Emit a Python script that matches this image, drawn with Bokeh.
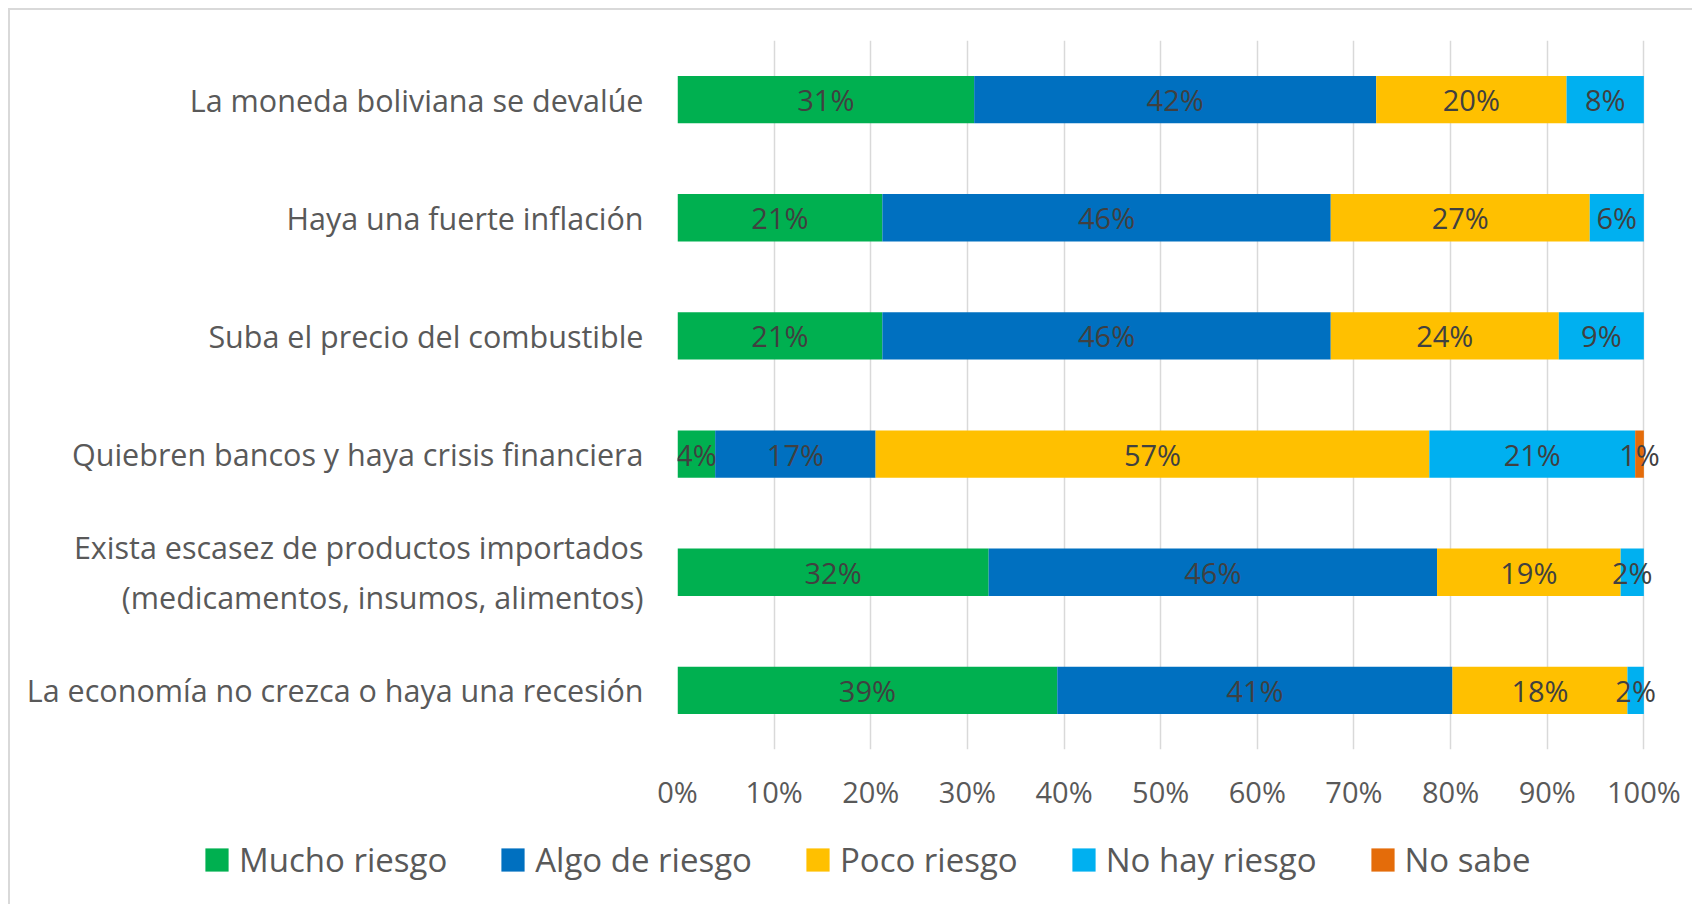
from bokeh.plotting import figure
from bokeh.models import (ColumnDataSource, LabelSet, Range1d, FactorRange, FixedTicker,
                          Legend, LegendItem)
from bokeh.core.properties import value
from bokeh.embed import file_html
from bokeh.resources import INLINE

categories = [
    "La moneda boliviana se devalúe",
    "Haya una fuerte inflación",
    "Suba el precio del combustible",
    "Quiebren bancos y haya crisis financiera",
    "Exista escasez de productos importados\n(medicamentos, insumos, alimentos)",
    "La economía no crezca o haya una recesión",
]
series_names = ["Mucho riesgo", "Algo de riesgo", "Poco riesgo", "No hay riesgo", "No sabe"]
mucho = [30.7, 21.2, 21.2, 3.9, 32.2, 39.3]
algo = [41.6, 46.4, 46.4, 16.6, 46.4, 40.9]
poco = [19.7, 26.8, 23.6, 57.3, 19.0, 18.1]
nohay = [8.0, 5.6, 8.8, 21.3, 2.4, 1.7]
nosabe = [0.0, 0.0, 0.0, 0.9, 0.0, 0.0]
colors = ["#00B050", "#0070C0", "#FFC000", "#00B0F0", "#E46C0A"]
tick_values = [0, 10, 20, 30, 40, 50, 60, 70, 80, 90, 100]
tick_labels = ["0%", "10%", "20%", "30%", "40%", "50%", "60%", "70%", "80%", "90%", "100%"]

FONT = "Open Sans"
LABEL_COLOR = "#595959"

p = figure(
    width=1684, height=820,
    y_range=FactorRange(factors=list(reversed(categories))),
    x_range=Range1d(0, 104),
    output_backend="svg", toolbar_location=None,
    min_border_left=667, min_border_right=12, min_border_top=30, min_border_bottom=81,
)
p.styles = {"margin-left": "8px", "margin-top": "8px",
            "border-top": "2px solid #d9d9d9", "border-left": "2px solid #d9d9d9"}
p.outline_line_color = None
p.background_fill_color = "white"
p.border_fill_color = "white"

all_series = [mucho, algo, poco, nohay, nosabe]
lefts = [0.0] * len(categories)
lab_x, lab_y, lab_t = [], [], []
for name, vals, col in zip(series_names, all_series, colors):
    rights = [l + v for l, v in zip(lefts, vals)]
    src = ColumnDataSource(dict(y=categories, left=lefts, right=rights))
    p.hbar(y="y", left="left", right="right", height=0.4, source=src,
           fill_color=col, line_color=None)
    for c, l, v in zip(categories, lefts, vals):
        if v > 0:
            lab_x.append(l + v / 2)
            lab_y.append(c)
            lab_t.append(f"{round(v)}%")
    lefts = rights

lsrc = ColumnDataSource(dict(x=lab_x, y=lab_y, t=lab_t))
labels = LabelSet(x="x", y="y", text="t", source=lsrc, text_align="center",
                  text_baseline="middle", text_font=value(FONT), text_font_size="29px",
                  text_color="#404040")
p.add_layout(labels)

xa = p.xaxis[0]
xa.ticker = FixedTicker(ticks=tick_values)
xa.major_label_overrides = {v: t for v, t in zip(tick_values, tick_labels)}
xa.axis_line_color = None
xa.major_tick_line_color = None
xa.minor_tick_line_color = None
xa.major_label_text_font = FONT
xa.major_label_text_font_size = "29px"
xa.major_label_text_color = LABEL_COLOR
xa.major_label_standoff = 16

ya = p.yaxis[0]
ya.axis_line_color = None
ya.major_tick_line_color = None
ya.minor_tick_line_color = None
ya.major_label_text_font = FONT
ya.major_label_text_font_size = "30.5px"
ya.major_label_text_color = LABEL_COLOR
ya.major_label_standoff = 28

p.ygrid.grid_line_color = None
p.xgrid.grid_line_color = "#d9d9d9"
p.xgrid.grid_line_width = 1.5
p.xgrid.ticker = FixedTicker(ticks=tick_values)

# legend strip: zero-size swatch proxies, legend carries the series names
lf = figure(width=1684, height=76, x_range=Range1d(0, 1), y_range=Range1d(0, 1),
            output_backend="svg", toolbar_location=None,
            min_border_left=0, min_border_right=0, min_border_top=0, min_border_bottom=0)
lf.styles = {"margin-left": "8px", "border-left": "2px solid #d9d9d9"}
lf.axis.visible = False
lf.grid.visible = False
lf.outline_line_color = None
lf.border_fill_color = "white"
items = []
for name, col in zip(series_names, colors):
    r = lf.hbar(y=[0], left=[0], right=[0], height=0, fill_color=col, line_color=None)
    items.append(LegendItem(label=name, renderers=[r]))
lg = Legend(items=items, orientation="horizontal", location=(192, 22))
lg.margin = 0
lg.padding = 0
lg.border_line_color = None
lg.background_fill_alpha = 0
lg.glyph_width = 29
lg.glyph_height = 29
lg.label_standoff = 8
lg.spacing = 51
lg.label_text_font = FONT
lg.label_text_font_size = "33px"
lg.label_text_color = LABEL_COLOR
lf.add_layout(lg, "center")

open("out.html", "w").write(file_html([p, lf], INLINE))
